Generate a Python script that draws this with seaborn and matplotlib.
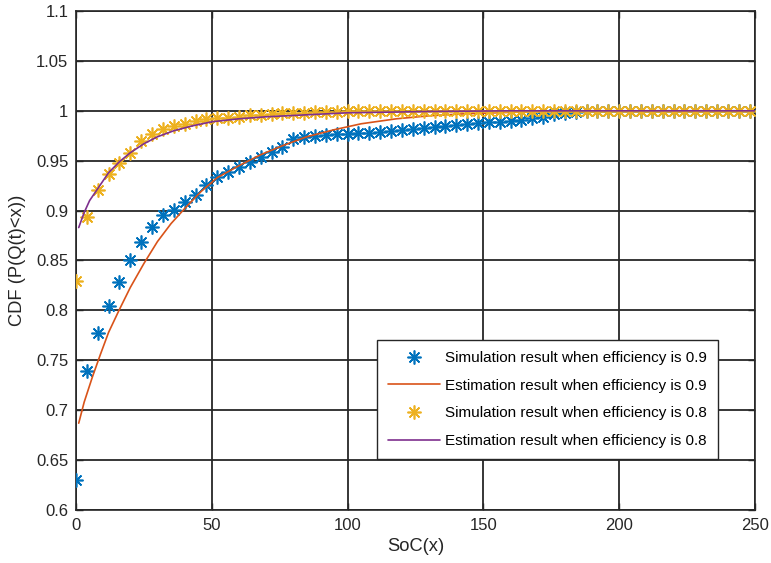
import matplotlib
matplotlib.use("Agg")
import matplotlib.pyplot as plt
import seaborn as sns
import pandas as pd

# ---- data ----
sim_x = [0, 4, 8, 12, 16, 20, 24, 28, 32, 36, 40, 44, 48, 52, 56, 60, 64, 68, 72, 76,
         80, 84, 88, 92, 96, 100, 104, 108, 112, 116, 120, 124, 128, 132, 136, 140, 144,
         148, 152, 156, 160, 164, 168, 172, 176, 180, 184, 188, 192, 196, 200, 204, 208,
         212, 216, 220, 224, 228, 232, 236, 240, 244, 248]

sim_09 = [0.630, 0.739, 0.777, 0.804, 0.828, 0.850, 0.869, 0.884, 0.896, 0.901,
          0.909, 0.916, 0.926, 0.934, 0.939, 0.944, 0.949, 0.954, 0.959, 0.964,
          0.972, 0.974, 0.975, 0.976, 0.977, 0.977, 0.978, 0.978, 0.979, 0.980,
          0.981, 0.982, 0.983, 0.984, 0.985, 0.986, 0.987, 0.988, 0.9885, 0.989,
          0.990, 0.991, 0.993, 0.994, 0.9965, 0.998, 0.999, 0.9995, 1.0, 1.0,
          1.0, 1.0, 1.0, 1.0, 1.0, 1.0, 1.0, 1.0, 1.0, 1.0, 1.0, 1.0, 1.0]

sim_08 = [0.829, 0.894, 0.921, 0.937, 0.948, 0.958, 0.970, 0.977, 0.982, 0.985,
          0.987, 0.990, 0.992, 0.993, 0.993, 0.994, 0.996, 0.996, 0.997, 0.998,
          0.998, 0.998, 0.999, 0.999, 0.999, 1.0, 1.0, 1.0, 1.0, 1.0,
          1.0, 1.0, 1.0, 1.0, 1.0, 1.0, 1.0, 1.0, 1.0, 1.0,
          1.0, 1.0, 1.0, 1.0, 1.0, 1.0, 1.0, 1.0, 1.0, 1.0,
          1.0, 1.0, 1.0, 1.0, 1.0, 1.0, 1.0, 1.0, 1.0, 1.0, 1.0, 1.0, 1.0]

est09_x = [1, 3, 6, 9, 12, 16, 20, 25, 30, 35, 40, 46, 52, 60, 68, 76, 85, 95,
           105, 118, 130, 143, 155, 167, 185, 210, 250]
est09_y = [0.687, 0.708, 0.733, 0.756, 0.778, 0.801, 0.823, 0.847, 0.869, 0.887,
           0.902, 0.919, 0.933, 0.945, 0.956, 0.965, 0.974, 0.981,
           0.987, 0.992, 0.995, 0.997, 0.998, 0.999, 0.9995, 1.0, 1.0]

est08_x = [1, 3, 5, 8, 12, 16, 20, 25, 30, 36, 43, 50, 60, 70, 85, 100, 130, 160, 250]
est08_y = [0.883, 0.898, 0.910, 0.922, 0.938, 0.949, 0.958, 0.967, 0.974, 0.980,
           0.985, 0.989, 0.992, 0.994, 0.996, 0.998, 0.9993, 1.0, 1.0]

labels = ["Simulation result when efficiency is 0.9",
          "Estimation result when efficiency is 0.9",
          "Simulation result when efficiency is 0.8",
          "Estimation result when efficiency is 0.8"]
colors = ["#0072BD", "#D95319", "#EDB120", "#7E2F8E"]

y_ticks = [0.6, 0.65, 0.7, 0.75, 0.8, 0.85, 0.9, 0.95, 1.0, 1.05, 1.1]
y_tick_labels = ["0.6", "0.65", "0.7", "0.75", "0.8", "0.85", "0.9", "0.95", "1", "1.05", "1.1"]
x_ticks = [0, 50, 100, 150, 200, 250]
x_tick_labels = ["0", "50", "100", "150", "200", "250"]

# ---- plotting ----
sns.set_style("white")
plt.rcParams["font.family"] = ["Liberation Sans", "DejaVu Sans"]

fig = plt.figure(figsize=(7.71, 5.63), dpi=100)
ax = fig.add_axes([76 / 771, 1 - 510 / 563, (755 - 76) / 771, (510 - 11) / 563])

df_sim09 = pd.DataFrame({"x": sim_x, "y": sim_09})
df_sim08 = pd.DataFrame({"x": sim_x, "y": sim_08})
df_est09 = pd.DataFrame({"x": est09_x, "y": est09_y})
df_est08 = pd.DataFrame({"x": est08_x, "y": est08_y})

star = (8, 2, 0)
sns.lineplot(data=df_sim09, x="x", y="y", ax=ax, linestyle="", marker=star,
             markersize=10, color=colors[0], markeredgecolor=colors[0],
             markeredgewidth=1.2, label=labels[0], zorder=3)
sns.lineplot(data=df_est09, x="x", y="y", ax=ax, color=colors[1], linewidth=1.2,
             label=labels[1], zorder=4)
sns.lineplot(data=df_sim08, x="x", y="y", ax=ax, linestyle="", marker=star,
             markersize=10, color=colors[2], markeredgecolor=colors[2],
             markeredgewidth=1.2, label=labels[2], zorder=5)
sns.lineplot(data=df_est08, x="x", y="y", ax=ax, color=colors[3], linewidth=1.2,
             label=labels[3], zorder=6)

ax.set_xlim(0, 250)
ax.set_ylim(0.6, 1.1)
ax.set_xticks(x_ticks)
ax.set_xticklabels(x_tick_labels)
ax.set_yticks(y_ticks)
ax.set_yticklabels(y_tick_labels)

ax.grid(True, color="#262626", linewidth=1.3, linestyle="-")
ax.set_axisbelow(True)
for sp in ax.spines.values():
    sp.set_visible(True)
    sp.set_color("#262626")
    sp.set_linewidth(1.2)

ax.tick_params(axis="both", direction="in", length=5, width=1.0, colors="#262626",
               labelcolor="#262626", labelsize=12, top=True, right=True,
               bottom=True, left=True)
ax.tick_params(axis="x", pad=5.5)
ax.tick_params(axis="y", pad=5.5)

ax.set_xlabel("SoC(x)", fontsize=13.2, color="#262626", labelpad=4)
ax.set_ylabel("CDF (P(Q(t)<x))", fontsize=13.2, color="#262626", labelpad=7)

leg = ax.legend(loc="upper left", bbox_to_anchor=((377 - 76) / 679, (510 - 340) / 499),
                borderaxespad=0, fontsize=11, frameon=True, fancybox=False,
                framealpha=1, edgecolor="#262626", handlelength=3.4,
                handletextpad=0.35, labelspacing=0.9, borderpad=0.72)
leg.get_frame().set_linewidth(1.0)
for t in leg.get_texts():
    t.set_color("#000000")

fig.savefig("out.png", dpi=100)
